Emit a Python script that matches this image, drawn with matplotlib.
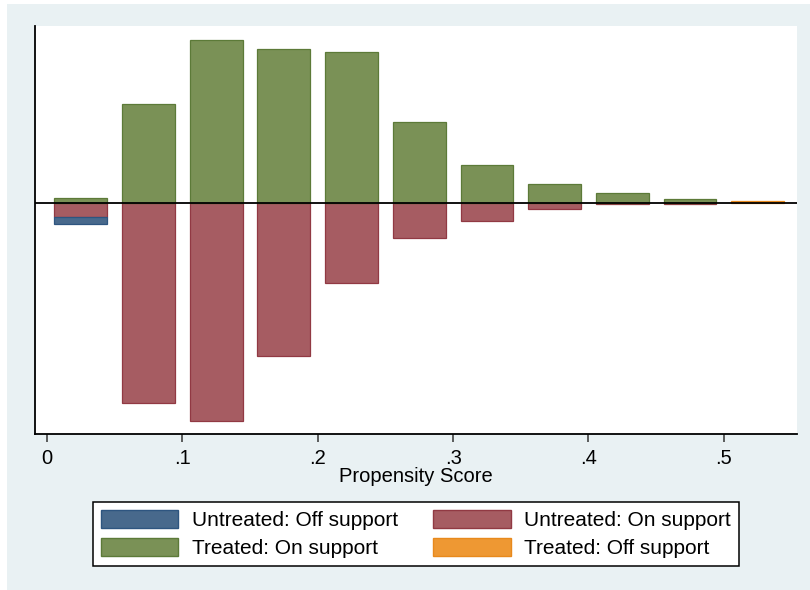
import matplotlib
matplotlib.use("Agg")
import matplotlib.pyplot as plt
from matplotlib.patches import Patch, Rectangle
import numpy as np

plt.rcParams['font.family'] = ['Liberation Sans', 'DejaVu Sans']

# Bin centers of propensity score histogram (bin width .05)
bin_centers = [0.025, 0.075, 0.125, 0.175, 0.225, 0.275, 0.325, 0.375, 0.425, 0.475, 0.525]
treated_on = [5.0, 99.5, 163.0, 154.5, 151.0, 81.0, 38.0, 19.0, 10.5, 3.7, 0.0]
treated_off = [0, 0, 0, 0, 0, 0, 0, 0, 0, 0, 1.8]
untreated_on = [14.0, 199.7, 218.3, 153.3, 79.7, 35.0, 18.0, 6.0, 1.0, 0.5, 0.0]
untreated_off = [7.0, 0, 0, 0, 0, 0, 0, 0, 0, 0, 0]
xticks = [0, 0.1, 0.2, 0.3, 0.4, 0.5]
xticklabels = ["0", ".1", ".2", ".3", ".4", ".5"]

c_blue, e_blue = "#48698C", "#2E5580"
c_red, e_red = "#A65C62", "#913943"
c_green, e_green = "#7A9156", "#5C7A38"
c_orange, e_orange = "#EE9833", "#E8891C"
bg = "#E9F1F3"

fig = plt.figure(figsize=(8.1, 5.9), dpi=100)
fig.patch.set_facecolor("white")
fig.patches.append(Rectangle((7/810, 0), 1, (590-4)/590, transform=fig.transFigure,
                             facecolor=bg, edgecolor="none", zorder=-10))

ax = fig.add_axes([35/810, 1-434/590, (797-35)/810, (434-26)/590])
ax.set_facecolor("white")

x = np.array(bin_centers)
w = 0.039
to = np.array(treated_on); tf = np.array(treated_off)
uo = np.array(untreated_on); uf = np.array(untreated_off)

m = uo > 0
ax.bar(x[m], -uo[m], width=w, color=c_red, edgecolor=e_red, linewidth=0.9, zorder=2)
m = uf > 0
ax.bar(x[m], -uf[m], bottom=-uo[m], width=w, color=c_blue, edgecolor=e_blue, linewidth=0.9, zorder=2)
m = to > 0
ax.bar(x[m], to[m], width=w, color=c_green, edgecolor=e_green, linewidth=0.9, zorder=2)
m = tf > 0
ax.bar(x[m], tf[m], bottom=to[m], width=w, color=c_orange, edgecolor=e_orange, linewidth=0.9, zorder=2)

ax.axhline(0, color="black", linewidth=1.3, zorder=3)

ax.set_xlim(-0.0088, 0.554)
ax.set_ylim(-231, 177)
for s in ["top", "right"]:
    ax.spines[s].set_visible(False)
for s in ["left", "bottom"]:
    ax.spines[s].set_linewidth(1.3)
    ax.spines[s].set_color("black")
ax.set_yticks([])
ax.set_xticks(xticks)
ax.set_xticklabels(xticklabels, fontsize=14.5)
ax.tick_params(axis="x", length=6, width=1.1, pad=5, color="#333333")
ax.set_xlabel("Propensity Score", fontsize=14.5, labelpad=-1)

handles = [Patch(facecolor=c_blue, edgecolor=e_blue, linewidth=1.0),
           Patch(facecolor=c_green, edgecolor=e_green, linewidth=1.0),
           Patch(facecolor=c_red, edgecolor=e_red, linewidth=1.0),
           Patch(facecolor=c_orange, edgecolor=e_orange, linewidth=1.0)]
labels = ["Untreated: Off support", "Treated: On support",
          "Untreated: On support", "Treated: Off support"]
leg = fig.legend(handles, labels, ncol=2, loc="upper left",
                 bbox_to_anchor=(93/810, 1-502/590), borderaxespad=0,
                 fontsize=15, handlelength=3.7, handleheight=0.95,
                 handletextpad=0.65, columnspacing=1.7, borderpad=0.4,
                 labelspacing=0.36, fancybox=False, framealpha=1)
leg.get_frame().set_edgecolor("black")
leg.get_frame().set_linewidth(1.1)

fig.savefig("out.png", dpi=100)
